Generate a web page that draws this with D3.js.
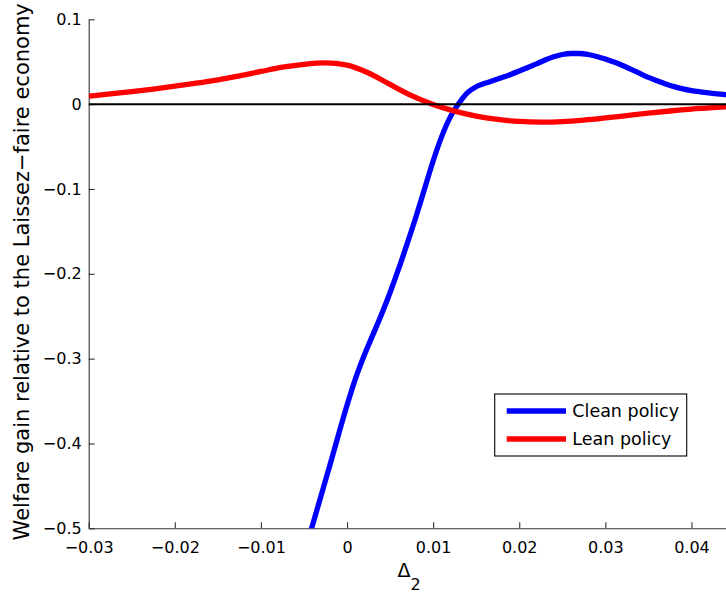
<!DOCTYPE html>
<html>
<head>
<meta charset="utf-8">
<script src="https://cdn.jsdelivr.net/npm/d3@7"></script>
<style>
  html, body { margin: 0; padding: 0; background: #fff; }
  svg { display: block; }
  text { font-family: "DejaVu Sans", sans-serif; fill: #000; }
</style>
</head>
<body>
<svg id="chart" width="726" height="593"></svg>
<script>
// ---- data ----
const xTicks = [-0.03, -0.02, -0.01, 0, 0.01, 0.02, 0.03, 0.04];
const xTickLabels = ["\u22120.03", "\u22120.02", "\u22120.01", "0", "0.01", "0.02", "0.03", "0.04"];
const yTicks = [-0.5, -0.4, -0.3, -0.2, -0.1, 0, 0.1];
const yTickLabels = ["\u22120.5", "\u22120.4", "\u22120.3", "\u22120.2", "\u22120.1", "0", "0.1"];

const seriesNames = ["Clean policy", "Lean policy"];

const cleanX = [-0.005, -0.004, -0.003, -0.002, -0.001, 0.000, 0.001, 0.002, 0.003, 0.004,
                0.005, 0.006, 0.007, 0.008, 0.009, 0.010, 0.011, 0.012, 0.013, 0.014,
                0.015, 0.016, 0.017, 0.018, 0.019, 0.020, 0.021, 0.022, 0.023, 0.024,
                0.025, 0.026, 0.027, 0.028, 0.029, 0.030, 0.031, 0.032, 0.033, 0.034,
                0.035, 0.036, 0.037, 0.038, 0.039, 0.040, 0.041, 0.042, 0.043, 0.044, 0.045];
const cleanY = [-0.530, -0.496, -0.461, -0.426, -0.390, -0.355, -0.323, -0.296, -0.272, -0.248,
                -0.222, -0.194, -0.164, -0.133, -0.100, -0.067, -0.038, -0.015, 0.001, 0.0135,
                0.0205, 0.0245, 0.0278, 0.0313, 0.0350, 0.0390, 0.0432, 0.0475, 0.0520, 0.0558,
                0.0585, 0.0597, 0.0597, 0.0585, 0.0562, 0.0532, 0.0496, 0.0455, 0.0410, 0.0362,
                0.0315, 0.0275, 0.0238, 0.0206, 0.0180, 0.0160, 0.0145, 0.0132, 0.0121, 0.0111, 0.0102];

const leanX = [-0.03, -0.0275, -0.025, -0.0225, -0.02, -0.0175, -0.015, -0.0125, -0.01, -0.0075,
               -0.005, -0.0025, 0, 0.0025, 0.005, 0.0075, 0.01, 0.0125, 0.015, 0.0175,
               0.02, 0.0225, 0.025, 0.0275, 0.03, 0.0325, 0.035, 0.0375, 0.04, 0.0425, 0.045];
const leanY = [0.0094, 0.0120, 0.0148, 0.0178, 0.0211, 0.0247, 0.0287, 0.0333, 0.0385, 0.0435,
               0.0470, 0.0486, 0.0460, 0.0367, 0.0232, 0.0100, -0.0004, -0.0083, -0.0141, -0.0180,
               -0.0204, -0.0212, -0.0206, -0.0188, -0.0163, -0.0135, -0.0107, -0.0081, -0.0059, -0.0042, -0.0028];

const xDomain = [-0.03, 0.045];
const yDomain = [-0.5, 0.1];

// ---- layout ----
const plotLeft = 88.7, plotRight = 734.5, plotTop = 19.3, plotBottom = 528.3;

const svg = d3.select("#chart");
const x = d3.scaleLinear().domain(xDomain).range([plotLeft, plotRight]);
const y = d3.scaleLinear().domain(yDomain).range([plotBottom, plotTop]);

svg.append("defs").append("clipPath").attr("id", "plotclip")
  .append("rect")
  .attr("x", plotLeft).attr("y", plotTop - 10)
  .attr("width", plotRight - plotLeft).attr("height", plotBottom - plotTop + 10);

// axes
const xAxis = d3.axisBottom(x)
  .tickValues(xTicks)
  .tickFormat((d, i) => xTickLabels[i])
  .tickSizeInner(-6).tickSizeOuter(0).tickPadding(13.5);
const yAxis = d3.axisLeft(y)
  .tickValues(yTicks)
  .tickFormat((d, i) => yTickLabels[i])
  .tickSizeInner(-6).tickSizeOuter(0).tickPadding(7);

const gx = svg.append("g").attr("transform", `translate(0,${plotBottom})`).call(xAxis);
const gy = svg.append("g").attr("transform", `translate(${plotLeft},0)`).call(yAxis);
[gx, gy].forEach(g => {
  g.selectAll("path.domain").attr("stroke", "#333").attr("stroke-width", 1.1);
  g.selectAll(".tick line").attr("stroke", "#333").attr("stroke-width", 1.1);
  g.selectAll(".tick text").attr("font-size", 16).attr("font-family", "DejaVu Sans").attr("fill", "#000");
});

// series
const line = d3.line().x(d => x(d[0])).y(d => y(d[1])).curve(d3.curveMonotoneX);
const plotG = svg.append("g").attr("clip-path", "url(#plotclip)");

plotG.append("path")
  .datum(cleanX.map((v, i) => [v, cleanY[i]]))
  .attr("d", line).attr("fill", "none")
  .attr("stroke", "#0000ff").attr("stroke-width", 5.3)
  .attr("stroke-linejoin", "round");

plotG.append("path")
  .datum(leanX.map((v, i) => [v, leanY[i]]))
  .attr("d", line).attr("fill", "none")
  .attr("stroke", "#ff0000").attr("stroke-width", 5.3)
  .attr("stroke-linejoin", "round");

// zero reference line
plotG.append("line")
  .attr("x1", x(xDomain[0])).attr("x2", x(xDomain[1]))
  .attr("y1", y(0)).attr("y2", y(0))
  .attr("stroke", "#000").attr("stroke-width", 2);

// axis labels
svg.append("text")
  .attr("transform", `translate(28.5,${(plotTop + plotBottom) / 2 - 2}) rotate(-90)`)
  .attr("text-anchor", "middle")
  .attr("font-size", 21)
  .text("Welfare gain relative to the Laissez\u2212faire economy");

const xl = svg.append("text")
  .attr("x", 397.5).attr("y", 577)
  .attr("font-size", 19);
xl.append("tspan").text("\u0394");
xl.append("tspan").attr("dy", 13).attr("font-size", 16).text("2");

// legend
const legend = svg.append("g");
legend.append("rect")
  .attr("x", 494.7).attr("y", 394).attr("width", 192).attr("height", 62)
  .attr("fill", "#fff").attr("stroke", "#000").attr("stroke-width", 1.1);
const legColors = ["#0000ff", "#ff0000"];
const legY = [411, 439];
seriesNames.forEach((name, i) => {
  legend.append("line")
    .attr("x1", 506.7).attr("x2", 566).attr("y1", legY[i]).attr("y2", legY[i])
    .attr("stroke", legColors[i]).attr("stroke-width", 5.3);
  legend.append("text")
    .attr("x", 572.3).attr("y", legY[i] + 6.4)
    .attr("font-size", 17.5)
    .text(name);
});
</script>
</body>
</html>
